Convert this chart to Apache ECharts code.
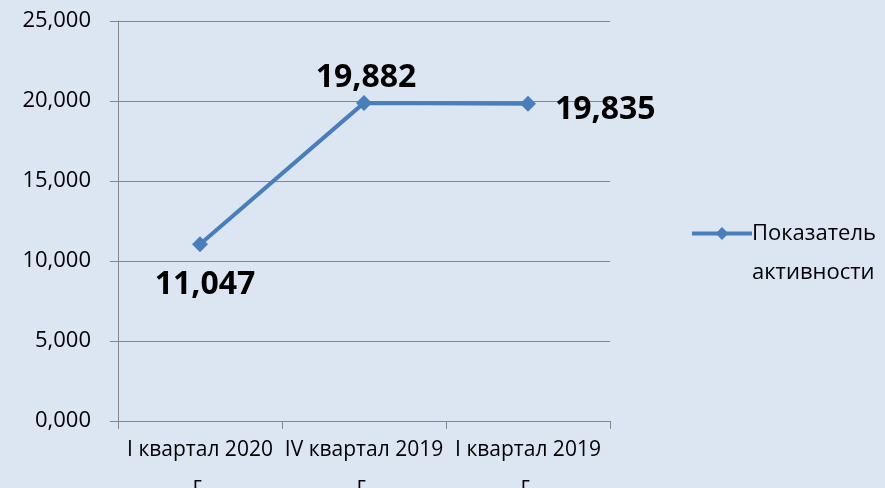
<!DOCTYPE html>
<html>
<head>
<meta charset="utf-8">
<script src="https://cdn.jsdelivr.net/npm/echarts@6/dist/echarts.min.js"></script>
<style>
  html, body { margin: 0; padding: 0; background: #dce6f2; }
  #main { width: 885px; height: 488px; }
</style>
</head>
<body>
<div id="main"></div>
<script>
// категории по оси X
var categories = ['I квартал 2020 г.', 'IV квартал 2019 г.', 'I квартал 2019 г.'];
// значения ряда
var values = [11.047, 19.882, 19.835];
var seriesName = 'Показатель активности';
// положения подписей данных
var labelPos = ['bottom', 'top', 'right'];
var labelDist = [17, 3, 19];
var labelOff = [[5, 0], [2, 2], [0, 6]];

function fmt(v) {
  return v.toFixed(3).replace('.', ',');
}

var chart = echarts.init(document.getElementById('main'));
var font = '"Open Sans", "Noto Sans", sans-serif';

var option = {
  backgroundColor: '#dce6f2',
  animation: false,
  textStyle: { fontFamily: font },
  grid: { left: 118, right: 275, top: 21, bottom: 67, outerBoundsMode: 'none', containLabel: false },
  legend: {
    orient: 'vertical',
    left: 685,
    top: 170,
    itemWidth: 60,
    itemHeight: 16,
    itemGap: 0,
    data: [seriesName],
    lineStyle: { width: 4 },
    // пустая первая строка, чтобы значок стоял напротив первой строки текста
    formatter: function (n) { return ' \n' + n.replace(' ', '\n'); },
    textStyle: { fontSize: 22, color: '#000', lineHeight: 39, fontFamily: font, padding: [0, 0, 0, -5] }
  },
  xAxis: {
    type: 'category',
    data: categories,
    boundaryGap: true,
    axisLine: { lineStyle: { color: '#868686', width: 1 } },
    axisTick: { show: true, length: 8, lineStyle: { color: '#868686' } },
    axisLabel: {
      color: '#000',
      fontSize: 21,
      margin: 11,
      lineHeight: 36,
      interval: 0,
      formatter: function (v) { return v.replace(/ г\.$/, '\nг.'); }
    }
  },
  yAxis: {
    type: 'value',
    min: 0,
    max: 25,
    interval: 5,
    axisLine: { show: true, lineStyle: { color: '#868686', width: 1 } },
    axisTick: { show: true, length: 8, lineStyle: { color: '#868686' } },
    splitLine: { lineStyle: { color: '#868686', width: 1 } },
    axisLabel: {
      color: '#000',
      fontSize: 22,
      margin: 27,
      formatter: fmt
    }
  },
  series: [{
    name: seriesName,
    type: 'line',
    symbol: 'diamond',
    symbolSize: 16,
    lineStyle: { color: '#4a7ebb', width: 4 },
    itemStyle: { color: '#4a7ebb' },
    data: values.map(function (v, i) {
      return {
        value: v,
        label: { position: labelPos[i], distance: labelDist[i], offset: labelOff[i] }
      };
    }),
    label: {
      show: true,
      fontSize: 32,
      fontWeight: 'bold',
      color: '#000',
      fontFamily: font,
      formatter: function (p) { return fmt(p.value); }
    }
  }]
};

chart.setOption(option);
</script>
</body>
</html>
